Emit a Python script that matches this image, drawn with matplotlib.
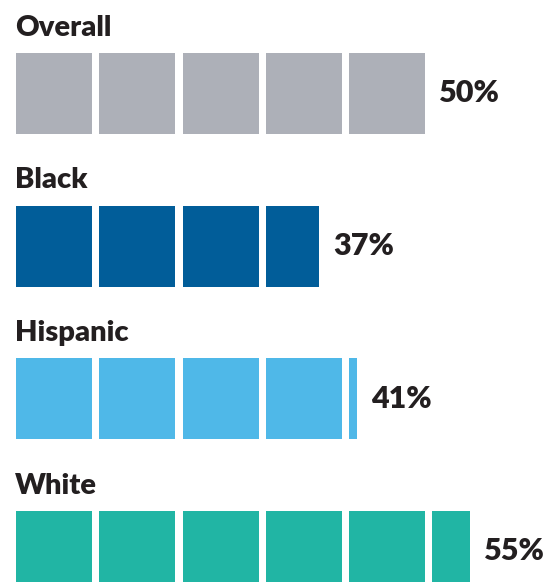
import numpy as np
import matplotlib.pyplot as plt
from matplotlib.patches import Rectangle

# data
groups = ['Overall', 'Black', 'Hispanic', 'White']
values = [50, 37, 41, 55]
colors = ['#ADB0B8', '#015D99', '#4FB8E8', '#21B5A4']
unit = 10  # one square = 10%

# layout (pixels)
W, H = 545, 582
x0 = 16
sq_w = 76
pitch = 83.25
sq_h = 81
row_top0 = 53
row_pitch = 152.5

plt.rcParams['font.family'] = ['Lato', 'DejaVu Sans']

fig = plt.figure(figsize=(W / 100, H / 100), dpi=100)
ax = fig.add_axes([0, 0, 1, 1])
ax.set_xlim(0, W)
ax.set_ylim(H, 0)
ax.axis('off')

for i, (g, v, c) in enumerate(zip(groups, values, colors)):
	top = row_top0 + i * row_pitch
	n_full = int(v // unit)
	frac = (v % unit) / unit
	for k in range(n_full):
		ax.add_patch(Rectangle((x0 + k * pitch, top), sq_w, sq_h, facecolor=c, edgecolor='none'))
	end = x0 + (n_full - 1) * pitch + sq_w
	if frac > 0:
		xs = x0 + n_full * pitch
		ax.add_patch(Rectangle((xs, top), frac * sq_w, sq_h, facecolor=c, edgecolor='none'))
		end = xs + frac * sq_w
	ax.text(x0 - 1, top - 17, g, fontsize=21, fontweight='heavy', color='#231F20', va='baseline', ha='left')
	ax.text(end + 14, top + sq_h / 2, f'{v}%', fontsize=22, fontweight='heavy', color='#231F20', va='center', ha='left')

fig.savefig('out.png', dpi=100)
